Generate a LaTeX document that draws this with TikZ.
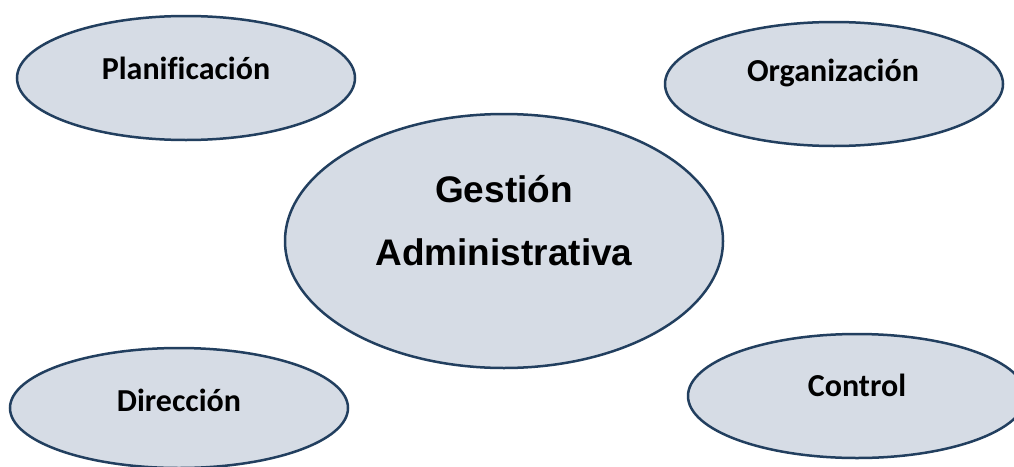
\documentclass[tikz,border=0pt]{standalone}
\usepackage{fontspec}
\setmainfont{Carlito}[Ligatures=NoCommon]
\newfontfamily\headfont{Liberation Sans}
\usetikzlibrary{shapes.geometric}
\definecolor{bubblefill}{HTML}{D6DCE5}
\definecolor{bubbleline}{HTML}{223F5F}
\begin{document}
\begin{tikzpicture}[x=1pt,y=-1pt,
  bubble/.style={ellipse,draw=bubbleline,fill=bubblefill,line width=2.5pt,inner sep=0pt},
  smalltext/.style={font=\fontsize{32}{38}\selectfont\bfseries,inner sep=0pt},
  bigtext/.style={font=\headfont\fontsize{37}{63}\selectfont\bfseries,align=center,inner sep=0pt}]
  \useasboundingbox (0,0) rectangle (1014,466);
  \clip (0,0) rectangle (1014,466);
  \fill[white] (0,0) rectangle (1014,466);

  \node[bubble,minimum width=338pt,minimum height=124pt] (plan) at (186,78) {};
  \node[smalltext] (planT) at (186,68) {Planificación};

  \node[bubble,minimum width=338pt,minimum height=124pt] (org) at (834,84) {};
  \node[smalltext] (orgT) at (833,73) {Organización};

  \node[bubble,minimum width=438pt,minimum height=254pt] (gest) at (504,241) {};
  \node[bigtext] (gestT) at (504,221) {Gestión\\Administrativa};

  \node[bubble,minimum width=338pt,minimum height=120pt] (dir) at (179,408) {};
  \node[smalltext] (dirT) at (179,400) {Dirección};

  \node[bubble,minimum width=338pt,minimum height=124pt] (ctrl) at (857,396) {};
  \node[smalltext] (ctrlT) at (857,385) {Control};
\end{tikzpicture}
\end{document}
